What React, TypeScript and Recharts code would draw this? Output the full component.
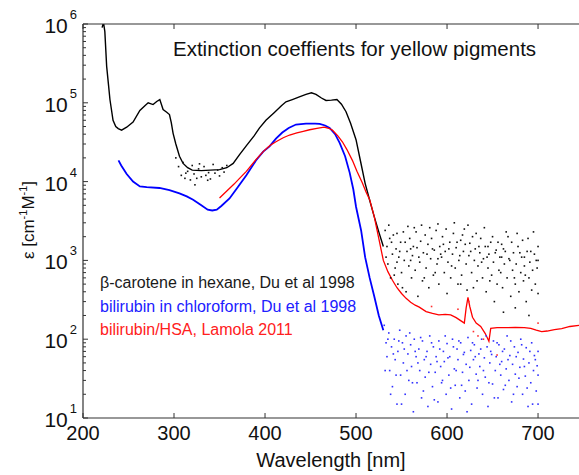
import { ComposedChart, Line, Scatter, XAxis, YAxis } from "recharts";

// wavelength [nm], epsilon [cm^-1 M^-1]
const caroteneLine: [number, number][] = [
  [221, 900000], [222.5, 1050000], [224, 800000], [226, 290000], [228, 170000], [229.6, 110000],
  [233, 60000], [236, 50000], [238.7, 47000], [242.4, 45000], [248, 49000], [255, 57000],
  [262.5, 80000], [268, 92000], [271.6, 100000], [277, 95000], [281, 104000], [284.4, 110000],
  [288, 82000], [292, 76000], [295, 71000], [297, 56000], [299, 41000], [302, 30000],
  [306, 21000], [310, 17000], [315, 15000], [320, 14000], [330, 13800], [340, 14000],
  [350, 14200], [358, 15000], [365, 17000], [372, 22000], [380, 29000], [388, 38000],
  [394, 48000], [401, 60000], [410, 75000], [418, 92000], [423, 103000], [430, 110000],
  [437, 118000], [445, 128000], [451, 134000], [456, 128000], [462, 115000], [467, 107000],
  [473, 108000], [479, 110000], [484, 96000], [489, 77000], [494, 55000], [500, 34000],
  [505, 18000], [510, 9500], [515, 5800], [520, 3600], [525, 2300], [530, 1500],
];

const caroteneNoise: [number, number][] = [
  [302, 20000], [305, 15500], [308, 12000], [310, 17500], [312, 11000], [315, 13500], [318, 10500],
  [320, 16000], [322, 12500], [323, 9100], [325, 11000], [327, 14500], [330, 11500], [333, 15500],
  [335, 12000], [338, 13000], [340, 10800], [343, 16500], [345, 12800], [348, 14000], [350, 11800],
  [353, 15000], [355, 13200], [358, 16000], [313, 12800], [328, 16800], [337, 10400],
  [532, 2400], [534, 1500], [535, 900], [537, 1900], [538, 600], [540, 1200], [541, 2100],
  [543, 800], [544, 1400], [546, 500], [547, 1100], [549, 1700], [550, 700], [552, 2300],
  [553, 1000], [555, 400], [556, 1300], [558, 850], [559, 1900], [561, 600], [562, 1150],
  [564, 2600], [565, 750], [567, 1450], [568, 350], [570, 950], [571, 1750], [573, 550],
  [574, 1250], [576, 2100], [577, 800], [579, 1600], [580, 450], [582, 1050], [583, 1900],
  [585, 650], [586, 1350], [588, 2400], [589, 900], [591, 500], [592, 1500], [594, 1100],
  [595, 2000], [597, 700], [598, 1300], [600, 380], [601, 950], [603, 1700], [604, 600],
  [606, 1200], [607, 2200], [609, 800], [610, 1450], [612, 500], [613, 1000], [615, 1800],
  [616, 650], [618, 1300], [619, 2500], [621, 900], [622, 420], [624, 1150], [625, 1650],
  [627, 700], [628, 2000], [630, 1000], [631, 1400], [633, 550], [634, 850], [636, 1250],
  [637, 1900], [639, 600], [640, 1050], [642, 1500], [643, 400], [645, 800], [646, 1200],
  [648, 1700], [649, 650], [651, 950], [652, 300], [654, 1350], [655, 500], [657, 750],
  [658, 1100], [660, 1600], [661, 450], [663, 900], [664, 1300], [666, 600], [667, 2000],
  [669, 1000], [670, 350], [672, 750], [673, 1250], [675, 500], [676, 900], [678, 1500],
  [679, 400], [681, 700], [682, 1100], [684, 550], [685, 850], [687, 300], [688, 1300],
  [690, 600], [691, 950], [693, 420], [694, 750], [696, 1200], [697, 500], [699, 800],
  [700, 1500], [700, 380], [700, 1000], [662, 220], [675, 250], [690, 200],
  [533, 1100], [536, 2800], [539, 1700], [542, 650], [545, 2200], [548, 1300], [551, 450],
  [554, 1700], [557, 2700], [560, 1000], [563, 1500], [566, 2300], [569, 1100], [572, 2800],
  [575, 600], [578, 1200], [581, 2600], [584, 1400], [587, 700], [590, 2900], [593, 1200],
  [596, 1600], [599, 2500], [602, 1400], [605, 850], [608, 3000], [611, 1700], [614, 1150],
  [617, 2100], [620, 1600], [623, 2800], [626, 1300], [629, 450], [632, 2200], [635, 1500],
  [638, 950], [641, 2600], [644, 1100], [647, 550], [650, 2000], [653, 1250], [656, 1700],
  [659, 700], [662, 1400], [665, 2300], [668, 1050], [671, 1700], [674, 600], [677, 2200],
  [680, 1250], [683, 1800], [686, 650], [689, 1900], [692, 1300], [695, 2300], [698, 1000],
  [545, 950], [560, 1400], [590, 1050], [615, 500], [645, 1500], [660, 1100], [685, 1100],
];

const chcl3Line: [number, number][] = [
  [239, 18600], [242, 16000], [248, 12500], [255, 10000], [262.5, 8700], [270, 8500],
  [284, 8300], [295, 7800], [306, 7100], [314, 6500], [321, 5900], [330, 5000],
  [337, 4400], [342, 4300], [347, 4400], [352, 4900], [361, 6100], [370, 8500],
  [379.5, 12000], [390, 18500], [398, 24000], [405, 28000], [412, 35000], [419, 42000],
  [426, 48000], [434, 53000], [445, 54500], [455, 54500], [460, 54000], [466, 51500],
  [471, 48000], [477, 40000], [482, 31000], [488, 21000], [493, 13000], [497, 8000],
  [500, 4800], [503, 3300], [505.6, 2400], [510, 1100], [515, 600], [520, 350],
  [525, 200], [530, 130],
];

const chcl3Noise: [number, number][] = [
  [531, 150], [533, 90], [534, 60], [536, 120], [537, 40], [539, 80], [540, 25], [542, 100],
  [543, 55], [545, 15], [546, 70], [548, 130], [549, 35], [551, 90], [552, 50], [554, 20],
  [555, 110], [557, 65], [558, 30], [560, 85], [561, 45], [563, 12], [564, 100], [566, 60],
  [567, 28], [569, 75], [570, 40], [572, 18], [573, 95], [575, 55], [576, 33], [578, 70],
  [579, 14], [581, 110], [582, 48], [584, 25], [585, 80], [587, 38], [588, 60], [590, 16],
  [591, 95], [593, 45], [594, 28], [596, 70], [597, 52], [599, 20], [600, 88], [602, 35],
  [603, 60], [605, 13], [606, 100], [608, 42], [609, 26], [611, 75], [612, 55], [614, 18],
  [615, 90], [617, 38], [618, 64], [620, 22], [621, 48], [623, 105], [624, 30], [626, 72],
  [627, 15], [629, 55], [630, 85], [632, 36], [633, 24], [635, 65], [636, 45], [638, 100],
  [639, 20], [641, 58], [642, 33], [644, 80], [645, 14], [647, 50], [648, 70], [650, 27],
  [651, 95], [653, 40], [654, 60], [656, 18], [657, 85], [659, 35], [660, 52], [662, 23],
  [663, 75], [665, 42], [666, 110], [668, 30], [669, 62], [671, 16], [672, 48], [674, 80],
  [675, 36], [677, 25], [678, 68], [680, 44], [681, 100], [683, 20], [684, 56], [686, 34],
  [687, 78], [689, 14], [690, 50], [692, 28], [693, 90], [695, 40], [696, 62], [698, 22],
  [699, 46], [700, 15], [700, 70],
  [532, 40], [535, 100], [538, 20], [541, 65], [544, 35], [547, 95], [550, 15], [553, 75],
  [556, 40], [559, 120], [562, 28], [565, 70], [568, 50], [571, 105], [574, 22], [577, 60],
  [580, 38], [583, 90], [586, 17], [589, 52], [592, 75], [595, 30], [598, 110], [601, 58],
  [604, 24], [607, 80], [610, 40], [613, 95], [616, 26], [619, 68], [622, 12], [625, 44],
  [628, 90], [631, 60], [634, 30], [637, 75], [640, 40], [643, 110], [646, 28], [649, 64],
  [652, 18], [655, 90], [658, 48], [661, 70], [664, 26], [667, 55], [670, 95], [673, 20],
  [676, 60], [679, 32], [682, 85], [685, 45], [688, 24], [691, 70], [694, 15], [697, 55],
  [700, 35],
];

const hsaLine: [number, number][] = [
  [350, 6200], [358, 7600], [366, 9300], [372, 11000], [379.5, 13500], [390, 19000],
  [398, 24000], [405, 28500], [412, 32000], [420, 36000], [427, 39000], [435, 41500],
  [442, 43500], [449, 45500], [457, 47500], [465, 49000], [470, 47500], [474, 45000],
  [480, 38000], [485, 32000], [490, 25500], [496, 18600], [501, 13500], [507, 9600],
  [511, 7400], [515, 5900], [520, 3600], [525, 1900], [530, 1000], [535, 720],
  [540, 560], [545, 450], [550, 380], [555, 330], [560, 295], [565, 270], [569.5, 255],
  [577, 224], [584, 212], [591, 204], [598, 206], [604, 204], [610, 188], [617, 166],
  [619, 160], [621, 250], [623, 340], [625, 260], [628, 190], [632, 160], [637, 145],
  [642, 118], [646, 94], [648, 137], [655, 140], [665, 140], [675, 141], [685, 140],
  [692, 137], [698, 130], [704, 125], [710, 127], [718, 132], [726, 136], [735, 145],
  [745, 150],
];

const hsaNoise: [number, number][] = [
  [583, 260], [612, 240], [624, 300], [629, 125], [634, 110], [640, 100], [655, 63], [700, 160],
];

const xTicks = [200, 300, 400, 500, 600, 700];
const yMajor = [10, 100, 1000, 10000, 100000, 1000000];
const yMinor = [10, 100, 1000, 10000, 100000].flatMap((d) => [2, 3, 4, 5, 6, 7, 8, 9].map((m) => m * d));

const legend = [
  { text: "β-carotene in hexane, Du et al 1998", color: "#1a1a1a" },
  { text: "bilirubin in chloroform, Du et al 1998", color: "#2020ff" },
  { text: "bilirubin/HSA, Lamola 2011", color: "#ff2020" },
];

const toPts = (a: [number, number][]) => a.map(([x, y]) => ({ x, y }));

const FONT = '"Liberation Sans", Arial, Helvetica, sans-serif';
const AXIS = "#333";

function YTick(props: any) {
  const { x, y, payload } = props;
  const v = payload.value;
  const major = yMajor.includes(v);
  const exp = Math.round(Math.log10(v));
  return (
    <g>
      <line x1={x} x2={x + (major ? 5 : 3)} y1={y} y2={y} stroke={AXIS} strokeWidth={1} />
      {major && (
        <text x={x - 6} y={y + 9} textAnchor="end" fontFamily={FONT} fill="#111">
          <tspan fontSize={21}>10</tspan>
          <tspan fontSize={13} dx={2} dy={-14}>{exp}</tspan>
        </text>
      )}
    </g>
  );
}

function XTick(props: any) {
  const { x, y, payload } = props;
  return (
    <g>
      <line x1={x} x2={x} y1={y} y2={y - 5} stroke={AXIS} strokeWidth={1} />
      <text x={x} y={y + 22} textAnchor="middle" fontFamily={FONT} fontSize={20} fill="#111">
        {payload.value}
      </text>
    </g>
  );
}

function TopTick(props: any) {
  const { x, y } = props;
  return <line x1={x} x2={x} y1={y} y2={y + 5} stroke={AXIS} strokeWidth={1} />;
}

const dotShape = (color: string) => (p: any) =>
  <rect x={p.cx - 0.8} y={p.cy - 0.8} width={1.6} height={1.6} fill={color} />;

export default function App() {
  return (
    <div style={{ position: "absolute", left: 0, top: 0, width: 579, height: 475, background: "#fff" }}>
      <ComposedChart width={579} height={475} margin={{ top: 23, right: 0, bottom: 0, left: 0 }}>
        <XAxis
          xAxisId="b"
          type="number"
          dataKey="x"
          domain={[200, 745]}
          ticks={xTicks}
          allowDataOverflow
          height={57}
          tickSize={0}
          tickMargin={0}
          tickLine={false}
          axisLine={{ stroke: AXIS, strokeWidth: 1.2 }}
          tick={<XTick />}
          interval={0}
        />
        <XAxis
          xAxisId="t"
          orientation="top"
          type="number"
          dataKey="x"
          domain={[200, 745]}
          ticks={xTicks}
          allowDataOverflow
          height={1}
          tickSize={0}
          tickMargin={0}
          tickLine={false}
          axisLine={{ stroke: AXIS, strokeWidth: 1.2 }}
          tick={<TopTick />}
          interval={0}
        />
        <YAxis
          yAxisId="l"
          type="number"
          scale="log"
          domain={[10, 1000000]}
          ticks={[...yMajor, ...yMinor]}
          allowDataOverflow
          width={83}
          tickSize={0}
          tickMargin={0}
          tickLine={false}
          axisLine={{ stroke: AXIS, strokeWidth: 1.2 }}
          tick={<YTick />}
          interval={0}
        />
        <Scatter xAxisId="b" yAxisId="l" data={toPts(caroteneNoise)} dataKey="y" shape={dotShape("#111")} isAnimationActive={false} />
        <Scatter xAxisId="b" yAxisId="l" data={toPts(chcl3Noise)} dataKey="y" shape={dotShape("#3030ff")} isAnimationActive={false} />
        <Scatter xAxisId="b" yAxisId="l" data={toPts(hsaNoise)} dataKey="y" shape={dotShape("#ff3030")} isAnimationActive={false} />
        <Line xAxisId="b" yAxisId="l" data={toPts(caroteneLine)} dataKey="y" type="linear" stroke="#000" strokeWidth={1.4} dot={false} isAnimationActive={false} />
        <Line xAxisId="b" yAxisId="l" data={toPts(chcl3Line)} dataKey="y" type="linear" stroke="#0000ff" strokeWidth={1.8} dot={false} isAnimationActive={false} />
        <Line xAxisId="b" yAxisId="l" data={toPts(hsaLine)} dataKey="y" type="linear" stroke="#ff0000" strokeWidth={1.3} dot={false} isAnimationActive={false} />
      </ComposedChart>
      <svg width={579} height={475} style={{ position: "absolute", left: 0, top: 0, pointerEvents: "none" }} fontFamily={FONT}>
        <text x={173} y={56} fontSize={20.5} fill="#111">Extinction coeffients for yellow pigments</text>
        {legend.map((l, i) => (
          <text key={l.text} x={100} y={288 + i * 23.5} fontSize={16} fill={l.color}>{l.text}</text>
        ))}
        <text x={331} y={467} textAnchor="middle" fontSize={20} fill="#111">Wavelength [nm]</text>
        <text x={34} y={220} textAnchor="middle" fontSize={17} fill="#111" transform="rotate(-90, 34, 220)">
          ε [cm<tspan fontSize={11} dy={-7}>-1</tspan>
          <tspan dy={7}>M</tspan>
          <tspan fontSize={11} dy={-7}>-1</tspan>
          <tspan dy={7}>]</tspan>
        </text>
      </svg>
    </div>
  );
}
